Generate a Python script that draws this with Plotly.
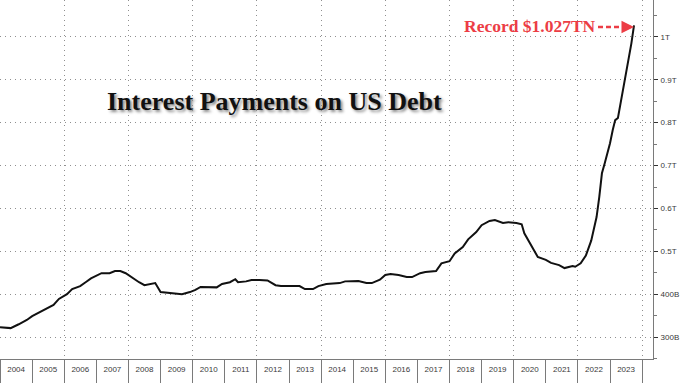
import plotly.graph_objects as go

dates = ["2004-01","2004-05","2004-08","2004-11","2005-01","2005-04","2005-07","2005-09","2005-11",
         "2006-02","2006-04","2006-07","2006-09","2006-11","2007-03","2007-06","2007-08","2007-10",
         "2007-12","2008-02","2008-05","2008-07","2008-10","2008-11","2009-01","2009-04","2009-07",
         "2009-09","2009-12","2010-02","2010-04","2010-07","2010-10","2010-12","2011-03","2011-05",
         "2011-06","2011-09","2011-11","2012-02","2012-05","2012-08","2012-10","2013-05","2013-07",
         "2013-10","2013-12","2014-03","2014-08","2014-10","2015-03","2015-06","2015-08","2015-11",
         "2016-01","2016-03","2016-06","2016-09","2016-11","2017-02","2017-04","2017-08","2017-10",
         "2018-01","2018-03","2018-06","2018-08","2018-11","2019-01","2019-04","2019-06","2019-09",
         "2019-11","2020-02","2020-04","2020-05","2020-08","2020-10","2021-01","2021-03","2021-06",
         "2021-08","2021-11","2021-12","2022-02","2022-04","2022-06","2022-08","2022-09","2022-10",
         "2022-11","2023-01","2023-02","2023-03","2023-04","2023-05","2023-07","2023-08","2023-09",
         "2023-10"]
interest_bn = [323,321,330,340,349,358,368,375,389,
               400,412,419,428,437,449,449,454,454,
               449,440,428,421,424,426,405,403,400,
               400,405,410,417,417,416,424,428,435,
               428,430,433,433,432,421,419,419,412,
               412,419,424,426,430,431,426,426,434,
               445,447,445,440,440,449,452,454,472,
               477,495,510,528,545,561,571,573,566,
               568,566,563,542,510,487,480,473,468,
               461,466,464,472,490,525,580,627,682,
               705,752,783,806,811,845,906,946,985,
               1027]

ytick_vals = [300, 400, 500, 600, 700, 800, 900, 1000]
ytick_text = ["300B", "400B", "0.5T", "0.6T", "0.7T", "0.8T", "0.9T", "1T"]

title_text = "Interest Payments on US Debt"
record_text = "Record $1.027TN"

x_range = ["2004-01-01", "2024-05-04"]
y_range = [249, 1086]

grid_col = "#8f8f8f"
axis_col = "#7a7a7a"
label_col = "#3a3a3a"
red = "#ec3d45"

fig = go.Figure()
# invisible companion trace so the 2-year grid axis is drawn
fig.add_trace(go.Scatter(x=dates, y=interest_bn, xaxis="x2", mode="lines",
                         opacity=0, showlegend=False, hoverinfo="skip"))
fig.add_trace(go.Scatter(x=dates, y=interest_bn, mode="lines",
                         line=dict(color="#111111", width=2), showlegend=False,
                         hoverinfo="skip"))

fig.update_layout(
    width=680, height=383,
    margin=dict(l=0, r=27, t=0, b=24, autoexpand=False),
    paper_bgcolor="white", plot_bgcolor="white",
    xaxis=dict(type="date", range=x_range, autorange=False, dtick="M12", tick0="2004-01-01",
               ticklabelmode="period", tickformat="%Y", showgrid=False,
               ticks="outside", ticklen=23, tickcolor=axis_col, tickwidth=1,
               ticklabelstandoff=-21, ticklabeloverflow="allow",
               showline=True, linecolor=axis_col, linewidth=1,
               tickfont=dict(family="Liberation Sans", size=8, color=label_col),
               zeroline=False),
    xaxis2=dict(type="date", range=x_range, autorange=False, overlaying="x",
                dtick="M24", tick0="2006-01-01", showgrid=True,
                gridcolor=grid_col, griddash="1px,4px", gridwidth=1,
                showticklabels=False, ticks="", showline=False, zeroline=False),
    yaxis=dict(range=y_range, autorange=False, side="right",
               tickvals=ytick_vals, ticktext=ytick_text,
               showgrid=True, gridcolor=grid_col, griddash="1px,4px", gridwidth=1,
               ticks="outside", ticklen=4, tickcolor="#333333", tickwidth=1,
               ticklabeloverflow="allow", ticklabelstandoff=1,
               showline=True, linecolor=axis_col, linewidth=1,
               minor=dict(dtick=50, tick0=0, ticks="outside", ticklen=3,
                          tickcolor=axis_col, showgrid=False),
               tickfont=dict(family="Liberation Sans", size=8, color=label_col),
               zeroline=False),
)

fig.add_annotation(xref="paper", yref="paper", x=0.42, y=0.716,
                   xanchor="center", yanchor="middle",
                   text=title_text, showarrow=False,
                   font=dict(family="Liberation Serif", size=26, color="#111111",
                             weight="bold", shadow="2px 2px 3px #888888"))

fig.add_annotation(x=dates[-1], y=interest_bn[-1], xref="x", yref="y",
                   text=record_text, showarrow=False, xanchor="right", yanchor="middle",
                   xshift=-36, yshift=-1,
                   font=dict(family="Liberation Serif", size=17.5, color=red, weight="bold"))

fig.add_shape(type="line", xref="x", yref="y", xsizemode="pixel", xanchor=dates[-1],
              x0=-36, x1=-8, y0=interest_bn[-1] - 4, y1=interest_bn[-1] - 4,
              line=dict(color=red, width=2.5, dash="5px,3px"))

fig.add_annotation(x=dates[-1], y=interest_bn[-1] - 4, xref="x", yref="y",
                   ax=-9, ay=0, text="", showarrow=True, arrowhead=2,
                   arrowsize=1, arrowwidth=2.5, arrowcolor=red, standoff=0)

fig.write_html("out.html", config={"displayModeBar": False},
               post_script="document.body.style.margin='0';document.body.style.overflow='hidden';")
